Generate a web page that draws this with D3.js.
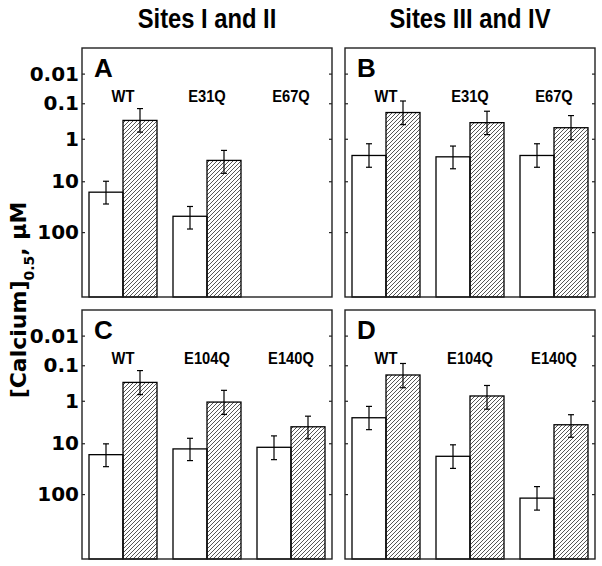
<!DOCTYPE html>
<html>
<head>
<meta charset="utf-8">
<script src="https://cdnjs.cloudflare.com/ajax/libs/d3/7.8.5/d3.min.js"></script>
<style>
body { margin: 0; background: #fff; }
text { font-family: "Liberation Sans", Arial, sans-serif; font-weight: bold; fill: #000; }
</style>
</head>
<body>
<div id="chart"></div>
<script>
// group names per row
var groupsTop = ["WT", "E31Q", "E67Q"];
var groupsBottom = ["WT", "E104Q", "E140Q"];
var series = ["open", "hatched"];

// [Calcium]0.5 in uM (null = no bar)
var aOpen = [17, 51, null];
var aOpenErr = [[10, 29.5], [33, 88], null];
var aHatch = [0.32, 3.4, null];
var aHatchErr = [[0.145, 0.67], [1.96, 6.7], null];

var bOpen = [2.6, 2.8, 2.6];
var bOpenErr = [[1.34, 4.9], [1.53, 5.3], [1.34, 4.9]];
var bHatch = [0.19, 0.37, 0.51];
var bHatchErr = [[0.085, 0.42], [0.174, 0.78], [0.233, 1.06]];

var cOpen = [17.4, 13.2, 12.2];
var cOpenErr = [[10.3, 30.4], [7.8, 23], [6.9, 22]];
var cHatch = [0.32, 1.08, 4.3];
var cHatchErr = [[0.145, 0.69], [0.53, 2.2], [2.42, 8.0]];

var dOpen = [2.64, 18.8, 118];
var dOpenErr = [[1.39, 5.0], [10.8, 32.9], [73, 191]];
var dHatch = [0.196, 0.75, 3.86];
var dHatchErr = [[0.088, 0.45], [0.39, 1.63], [2.23, 7.4]];

var tickValues = [0.01, 0.1, 1, 10, 100];
var tickLabels = ["0.01", "0.1", "1", "10", "100"];
var columnTitles = ["Sites I and II", "Sites III and IV"];

var W = 602, H = 566;
var pw = 250, ph = 249;

var svg = d3.select("#chart").append("svg")
    .attr("width", W)
    .attr("height", H);

var defs = svg.append("defs");
defs.append("pattern")
    .attr("id", "hatch")
    .attr("patternUnits", "userSpaceOnUse")
    .attr("width", 4)
    .attr("height", 4)
  .append("path")
    .attr("d", "M-1,1 l2,-2 M0,4 l4,-4 M3,5 l2,-2")
    .attr("stroke", "#444")
    .attr("stroke-width", 0.9);

// the original axis is a squashed log: a small-exponent power fits the tick spacing
var y = d3.scalePow().exponent(0.078)
    .domain([0.00092, 1150])
    .range([0, ph]);

var x0 = d3.scaleBand().domain([0, 1, 2]).range([7, 243]).paddingInner(16 / 84);
var x1 = d3.scaleBand().domain(series).range([0, x0.bandwidth()]);

var panels = [
  { name: "A", x: 82, y: 48, groups: groupsTop, open: aOpen, openErr: aOpenErr, hatch: aHatch, hatchErr: aHatchErr, labels: true },
  { name: "B", x: 345, y: 48, groups: groupsTop, open: bOpen, openErr: bOpenErr, hatch: bHatch, hatchErr: bHatchErr, labels: false },
  { name: "C", x: 82, y: 310, groups: groupsBottom, open: cOpen, openErr: cOpenErr, hatch: cHatch, hatchErr: cHatchErr, labels: true },
  { name: "D", x: 345, y: 310, groups: groupsBottom, open: dOpen, openErr: dOpenErr, hatch: dHatch, hatchErr: dHatchErr, labels: false }
];

panels.forEach(function(p) {
  var g = svg.append("g").attr("transform", "translate(" + p.x + "," + p.y + ")");

  var rows = [];
  p.groups.forEach(function(name, i) {
    if (p.open[i] != null) rows.push({ i: i, s: "open", v: p.open[i], err: p.openErr[i] });
    if (p.hatch[i] != null) rows.push({ i: i, s: "hatched", v: p.hatch[i], err: p.hatchErr[i] });
  });

  g.selectAll("rect.bar")
      .data(rows)
      .enter().append("rect")
      .attr("class", "bar")
      .attr("x", function(d) { return x0(d.i) + x1(d.s); })
      .attr("y", function(d) { return y(d.v); })
      .attr("width", x1.bandwidth())
      .attr("height", function(d) { return ph - y(d.v); })
      .attr("fill", function(d) { return d.s == "open" ? "#fff" : "url(#hatch)"; })
      .attr("stroke", "#000")
      .attr("stroke-width", 1.3);

  var eb = g.selectAll("g.err")
      .data(rows)
      .enter().append("g")
      .attr("class", "err")
      .attr("transform", function(d) { return "translate(" + (x0(d.i) + x1(d.s) + x1.bandwidth() / 2) + ",0)"; });
  eb.append("line")
      .attr("y1", function(d) { return y(d.err[0]); })
      .attr("y2", function(d) { return y(d.err[1]); });
  eb.append("line")
      .attr("x1", -3).attr("x2", 3)
      .attr("y1", function(d) { return y(d.err[0]); })
      .attr("y2", function(d) { return y(d.err[0]); });
  eb.append("line")
      .attr("x1", -3).attr("x2", 3)
      .attr("y1", function(d) { return y(d.err[1]); })
      .attr("y2", function(d) { return y(d.err[1]); });
  eb.selectAll("line").attr("stroke", "#000").attr("stroke-width", 1.2);

  // group names, a bit condensed like the original lettering
  g.selectAll("text.grp")
      .data(p.groups)
      .enter().append("text")
      .attr("class", "grp")
      .attr("transform", function(d, i) { return "translate(" + (x0(i) + x0.bandwidth() / 2) + ",54) scale(0.92,1)"; })
      .attr("text-anchor", "middle")
      .style("font-size", "16px")
      .text(function(d) { return d; });

  g.append("text")
      .attr("x", 12)
      .attr("y", 29)
      .style("font-size", "26px")
      .text(p.name);

  var left = d3.axisLeft(y).tickValues(tickValues).tickSize(-3).tickPadding(3)
      .tickFormat(function(d, i) { return p.labels ? tickLabels[i] : ""; });
  var right = d3.axisRight(y).tickValues(tickValues).tickSize(-3).tickFormat("");

  var ga = g.append("g").call(left);
  g.append("g").attr("transform", "translate(" + pw + ",0)").call(right);
  g.selectAll(".domain").remove();
  g.selectAll(".tick line").attr("stroke", "#222").attr("stroke-width", 1.2);
  ga.selectAll("text")
      .style("font-family", "'DejaVu Sans', sans-serif")
      .style("font-weight", "bold")
      .style("font-size", "20px");

  g.append("rect")
      .attr("width", pw)
      .attr("height", ph)
      .attr("fill", "none")
      .attr("stroke", "#222")
      .attr("stroke-width", 1.4);
});

svg.selectAll("text.coltitle")
    .data(columnTitles)
    .enter().append("text")
    .attr("class", "coltitle")
    .attr("transform", function(d, i) { return "translate(" + (panels[i].x + pw / 2) + ",28) scale(0.88,1)"; })
    .attr("text-anchor", "middle")
    .style("font-size", "27px")
    .text(function(d) { return d; });

var yt = svg.append("text")
    .attr("transform", "translate(26,300) rotate(-90)")
    .attr("text-anchor", "middle")
    .style("font-family", "'DejaVu Sans', sans-serif")
    .style("font-size", "22px");
yt.append("tspan").text("[Calcium]");
yt.append("tspan").attr("baseline-shift", "sub").style("font-size", "14px").text("0.5");
yt.append("tspan").text(", \u03bcM");
</script>
</body>
</html>
